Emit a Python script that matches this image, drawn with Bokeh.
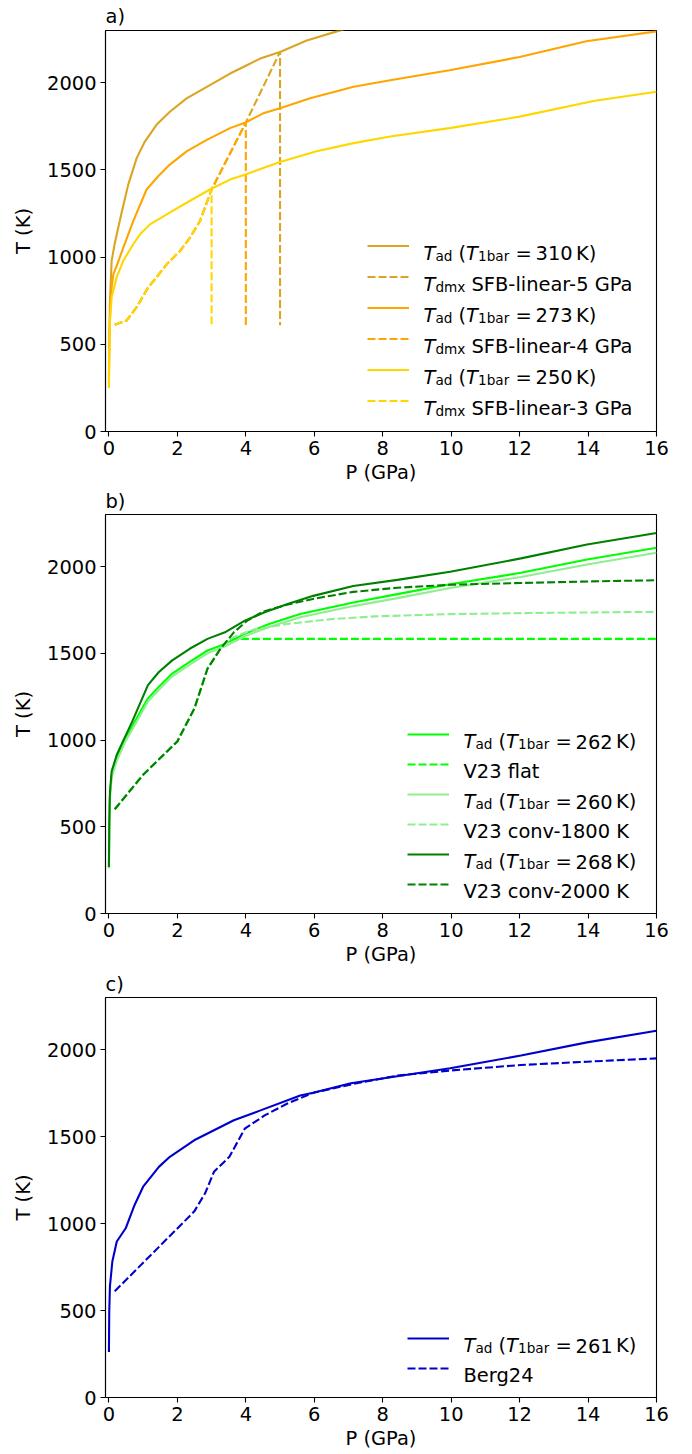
from bokeh.plotting import figure
from bokeh.models import Range1d, FixedTicker, Legend, LegendItem, Label, Title
from bokeh.layouts import column
from bokeh.embed import file_html
from bokeh.resources import INLINE

# ---------------- data ----------------
x_ticks = [0, 2, 4, 6, 8, 10, 12, 14, 16]
y_ticks = [0, 500, 1000, 1500, 2000]

# panel a
p_a310 = [0, 0.01, 0.03, 0.08, 0.175, 0.37, 0.565, 0.81, 1.05, 1.39, 1.78, 2.27, 2.86, 3.54, 4.03, 4.42, 5.0, 5.78, 6.66, 8, 10, 12, 14, 16]
t_a310 = [310, 520, 750, 980, 1083, 1255, 1416, 1568, 1663, 1759, 1834, 1911, 1977, 2053, 2101, 2139, 2177, 2243, 2295, 2370, 2460, 2550, 2640, 2720]
p_a273 = [0, 0.01, 0.03, 0.05, 0.08, 0.13, 0.23, 0.42, 0.71, 1.10, 1.44, 1.78, 2.27, 2.86, 3.54, 3.99, 4.51, 5.0, 5.88, 7.15, 8.22, 9.95, 12.0, 13.95, 16]
t_a273 = [273, 480, 650, 732, 827, 903, 951, 1055, 1207, 1388, 1464, 1531, 1607, 1673, 1740, 1772, 1825, 1854, 1911, 1977, 2015, 2072, 2148, 2238, 2295]
p_a250 = [0, 0.01, 0.03, 0.08, 0.225, 0.42, 0.71, 0.91, 1.2, 1.69, 2.27, 2.95, 3.54, 3.99, 4.51, 5.0, 6.07, 7.15, 8.22, 9.95, 12.0, 14.2, 16]
t_a250 = [250, 450, 630, 770, 884, 979, 1074, 1131, 1188, 1245, 1312, 1388, 1445, 1474, 1511, 1546, 1607, 1654, 1692, 1740, 1806, 1897, 1949]
p_d5 = [0.17, 0.52, 0.81, 1.15, 1.39, 1.69, 2.08, 2.37, 2.66, 3.0, 4.0, 5.0, 5.0]
t_d5 = [612, 637, 713, 827, 884, 960, 1036, 1112, 1207, 1388, 1772, 2177, 610]
p_d4 = [0.17, 0.52, 0.81, 1.15, 1.39, 1.69, 2.08, 2.37, 2.66, 3.0, 4.0, 4.0]
t_d4 = [612, 637, 713, 827, 884, 960, 1036, 1112, 1207, 1388, 1772, 610]
p_d3 = [0.17, 0.52, 0.81, 1.15, 1.39, 1.69, 2.08, 2.37, 2.66, 3.0, 3.0]
t_d3 = [612, 637, 713, 827, 884, 960, 1036, 1112, 1207, 1388, 610]

# panel b
p_b262 = [0, 0.01, 0.03, 0.08, 0.23, 0.49, 0.81, 1.14, 1.46, 1.85, 2.36, 2.88, 3.39, 3.97, 4.68, 5.59, 7.14, 8.43, 9.97, 12.04, 13.97, 16]
t_b262 = [262, 500, 680, 800, 896, 1011, 1125, 1240, 1307, 1383, 1450, 1516, 1554, 1612, 1669, 1726, 1793, 1841, 1898, 1964, 2041, 2108]
p_b260 = [0, 0.01, 0.03, 0.08, 0.23, 0.49, 0.81, 1.14, 1.46, 1.85, 2.36, 2.88, 3.39, 3.97, 4.68, 5.59, 7.14, 8.43, 9.97, 12.04, 13.97, 16]
t_b260 = [260, 490, 670, 785, 880, 995, 1105, 1222, 1290, 1367, 1435, 1500, 1540, 1598, 1652, 1708, 1772, 1818, 1876, 1940, 2012, 2080]
p_b268 = [0, 0.01, 0.03, 0.08, 0.23, 0.43, 0.68, 1.14, 1.46, 1.85, 2.36, 2.88, 3.39, 3.97, 4.55, 5.2, 5.97, 7.14, 8.43, 9.97, 12.04, 13.97, 16]
t_b268 = [268, 520, 700, 820, 915, 1001, 1106, 1316, 1392, 1459, 1526, 1583, 1621, 1688, 1736, 1783, 1831, 1888, 1923, 1970, 2047, 2127, 2193]
p_flat = [0.17, 1.0, 2.0, 2.5, 2.88, 3.26, 3.52, 16]
t_flat = [601, 800, 992, 1183, 1411, 1526, 1583, 1583]
p_c1800 = [0.17, 1.0, 2.0, 2.5, 2.88, 3.26, 3.6, 4.2, 5.2, 6.5, 7.8, 10, 12.3, 16]
t_c1800 = [601, 800, 992, 1183, 1411, 1526, 1590, 1635, 1669, 1697, 1713, 1726, 1732, 1739]
p_c2000 = [0.17, 1.0, 2.0, 2.5, 2.88, 3.26, 3.65, 4.04, 4.5, 5.2, 6.0, 7.14, 8.43, 10, 12, 14, 16]
t_c2000 = [601, 800, 992, 1183, 1411, 1526, 1621, 1688, 1740, 1780, 1815, 1854, 1878, 1895, 1905, 1914, 1921]

# panel c
p_c261 = [0, 0.01, 0.03, 0.10, 0.23, 0.49, 0.75, 1.0, 1.46, 1.78, 2.49, 3.65, 4.43, 5.59, 5.97, 7.07, 9.97, 12.04, 13.97, 16]
t_c261 = [261, 500, 640, 782, 897, 973, 1107, 1212, 1326, 1384, 1479, 1594, 1651, 1737, 1752, 1807, 1893, 1966, 2042, 2109]
p_berg = [0.17, 1.33, 2.49, 2.81, 3.07, 3.52, 3.97, 4.55, 5.2, 5.97, 7.14, 8.43, 9.97, 12.04, 13.97, 16]
t_berg = [611, 840, 1069, 1174, 1298, 1384, 1546, 1622, 1689, 1752, 1803, 1851, 1880, 1912, 1931, 1950]

# ---------------- style ----------------
FONT = "DejaVu Sans"
FS = 19.44
SUB = FS * 0.7
LW = 2.1
DASH = "8 3"
EM = {" ": .318, "(": .390, ")": .390, "-": .361, "=": .838, "B": .686, "F": .575,
      "G": .775, "K": .656, "P": .603, "S": .635, "T": .611, "V": .684, "a": .613,
      "b": .635, "c": .550, "d": .635, "e": .615, "f": .352, "g": .635, "i": .278,
      "l": .278, "m": .974, "n": .634, "o": .612, "r": .411, "t": .392, "v": .592,
      "x": .592}
for dch in "0123456789":
    EM[dch] = .636


def tw(s, size=FS):
    return sum(EM[c] for c in s) * size


def txt(p, x, y, s, size=FS, italic=False):
    p.add_layout(Label(x=x, y=y, x_units="screen", y_units="screen", text=s,
                       text_font=FONT, text_font_size=f"{size:.2f}px",
                       text_font_style="italic" if italic else "normal",
                       text_color="black", text_baseline="alphabetic",
                       text_align="left"))


def tad_label(p, x0, yb, num):
    x = x0
    txt(p, x, yb, "T", italic=True)
    x += tw("T")
    txt(p, x, yb - 2.7, "ad", size=SUB)
    x += tw("ad", SUB) + tw(" ")
    txt(p, x, yb, "(")
    x += tw("(")
    txt(p, x, yb, "T", italic=True)
    x += tw("T")
    txt(p, x, yb - 2.7, "1bar", size=SUB)
    x += tw("1bar", SUB) + 6.2
    txt(p, x, yb, "=")
    x += tw("=") + 3.9
    txt(p, x, yb, num)
    x += tw(num) + 3.3
    txt(p, x, yb, "K)")


def dmx_label(p, x0, yb, rest):
    x = x0
    txt(p, x, yb, "T", italic=True)
    x += tw("T")
    txt(p, x, yb - 2.7, "dmx", size=SUB)
    x += tw("dmx", SUB) + tw(" ")
    txt(p, x, yb, rest)


def make_fig(h, top, bottom, tag, title_standoff):
    p = figure(width=692, height=h, x_range=Range1d(-0.1, 16), y_range=Range1d(0, 2300),
               output_backend="svg", toolbar_location=None, title=None,
               min_border_left=105, min_border_right=36,
               min_border_top=top, min_border_bottom=bottom)
    p.add_layout(Title(text=tag, align="left", text_font=FONT,
                       text_font_size=f"{FS:.2f}px", text_font_style="normal",
                       text_color="black", standoff=title_standoff, offset=0), "above")
    p.xgrid.visible = False
    p.ygrid.visible = False
    p.background_fill_color = "white"
    p.border_fill_color = "white"
    p.outline_line_color = "black"
    p.outline_line_width = 1.1
    p.outline_line_alpha = 1.0
    p.xaxis.ticker = FixedTicker(ticks=x_ticks)
    p.yaxis.ticker = FixedTicker(ticks=y_ticks)
    p.xaxis.axis_label = "P (GPa)"
    p.yaxis.axis_label = "T (K)"
    for ax in (p.xaxis, p.yaxis):
        ax.major_label_text_font = FONT
        ax.major_label_text_font_size = f"{FS:.2f}px"
        ax.major_label_text_color = "black"
        ax.axis_label_text_font = FONT
        ax.axis_label_text_font_size = f"{FS:.2f}px"
        ax.axis_label_text_font_style = "normal"
        ax.axis_label_text_color = "black"
        ax.major_tick_in = 0
        ax.major_tick_out = 5
        ax.minor_tick_in = 0
        ax.minor_tick_out = 0
        ax.major_tick_line_color = "black"
        ax.major_tick_line_width = 1.1
        ax.axis_line_color = "black"
        ax.axis_line_width = 1.1
        ax.major_label_standoff = 4
    p.xaxis.axis_label_standoff = 3
    p.yaxis.axis_label_standoff = 9
    return p


def add_legend(p, items, lx, vy, h, sp):
    leg = Legend(items=[LegendItem(label=" ", renderers=[r]) for r in items],
                 location=(lx, vy), orientation="vertical",
                 glyph_width=42, glyph_height=h, label_height=h, spacing=sp,
                 label_standoff=14, padding=0, margin=0,
                 label_text_font_size="8px",
                 border_line_alpha=0, background_fill_alpha=0)
    p.add_layout(leg)
    n = len(items)
    centers = [vy + (n - 1 - i) * (h + sp) + h / 2 for i in range(n)]
    return lx + 42 + 14, centers


# ---------------- panel a ----------------
pa = make_fig(486, 30, 54, "a)", 5)
r1 = pa.line(p_a310, t_a310, line_color="#daa520", line_width=LW)
r2 = pa.line(p_d5, t_d5, line_color="#daa520", line_width=LW, line_dash=DASH)
r3 = pa.line(p_a273, t_a273, line_color="#ffa500", line_width=LW)
r4 = pa.line(p_d4, t_d4, line_color="#ffa500", line_width=LW, line_dash=DASH)
r5 = pa.line(p_a250, t_a250, line_color="#ffd700", line_width=LW)
r6 = pa.line(p_d3, t_d3, line_color="#ffd700", line_width=LW, line_dash=DASH)
tx, cy = add_legend(pa, [r1, r2, r3, r4, r5, r6], 262, 18, 25, 6)
tad_label(pa, tx, cy[0] - 7.2, "310")
dmx_label(pa, tx, cy[1] - 7.2, "SFB-linear-5 GPa")
tad_label(pa, tx, cy[2] - 7.2, "273")
dmx_label(pa, tx, cy[3] - 7.2, "SFB-linear-4 GPa")
tad_label(pa, tx, cy[4] - 7.2, "250")
dmx_label(pa, tx, cy[5] - 7.2, "SFB-linear-3 GPa")

# ---------------- panel b ----------------
pb = make_fig(482, 26, 54, "b)", 3)
s1 = pb.line(p_b262, t_b262, line_color="#00ff00", line_width=LW)
s2 = pb.line(p_flat, t_flat, line_color="#00ff00", line_width=LW, line_dash=DASH)
s3 = pb.line(p_b260, t_b260, line_color="#90ee90", line_width=LW)
s4 = pb.line(p_c1800, t_c1800, line_color="#90ee90", line_width=LW, line_dash=DASH)
s5 = pb.line(p_b268, t_b268, line_color="#008000", line_width=LW)
s6 = pb.line(p_c2000, t_c2000, line_color="#008000", line_width=LW, line_dash=DASH)
tx, cy = add_legend(pb, [s1, s2, s3, s4, s5, s6], 302, 17, 24, 6)
tad_label(pb, tx, cy[0] - 7.2, "262")
txt(pb, tx, cy[1] - 7.2, "V23 flat")
tad_label(pb, tx, cy[2] - 7.2, "260")
txt(pb, tx, cy[3] - 7.2, "V23 conv-1800 K")
tad_label(pb, tx, cy[4] - 7.2, "268")
txt(pb, tx, cy[5] - 7.2, "V23 conv-2000 K")

# ---------------- panel c ----------------
pc = make_fig(486, 27, 57, "c)", 4)
u1 = pc.line(p_c261, t_c261, line_color="#0000cd", line_width=LW)
u2 = pc.line(p_berg, t_berg, line_color="#0000cd", line_width=LW, line_dash=DASH)
tx, cy = add_legend(pc, [u1, u2], 302, 17, 24, 6)
tad_label(pc, tx, cy[0] - 7.2, "261")
txt(pc, tx, cy[1] - 7.2, "Berg24")

layout = column(pa, pb, pc, spacing=0)
open("out.html", "w").write(file_html(layout, INLINE))
